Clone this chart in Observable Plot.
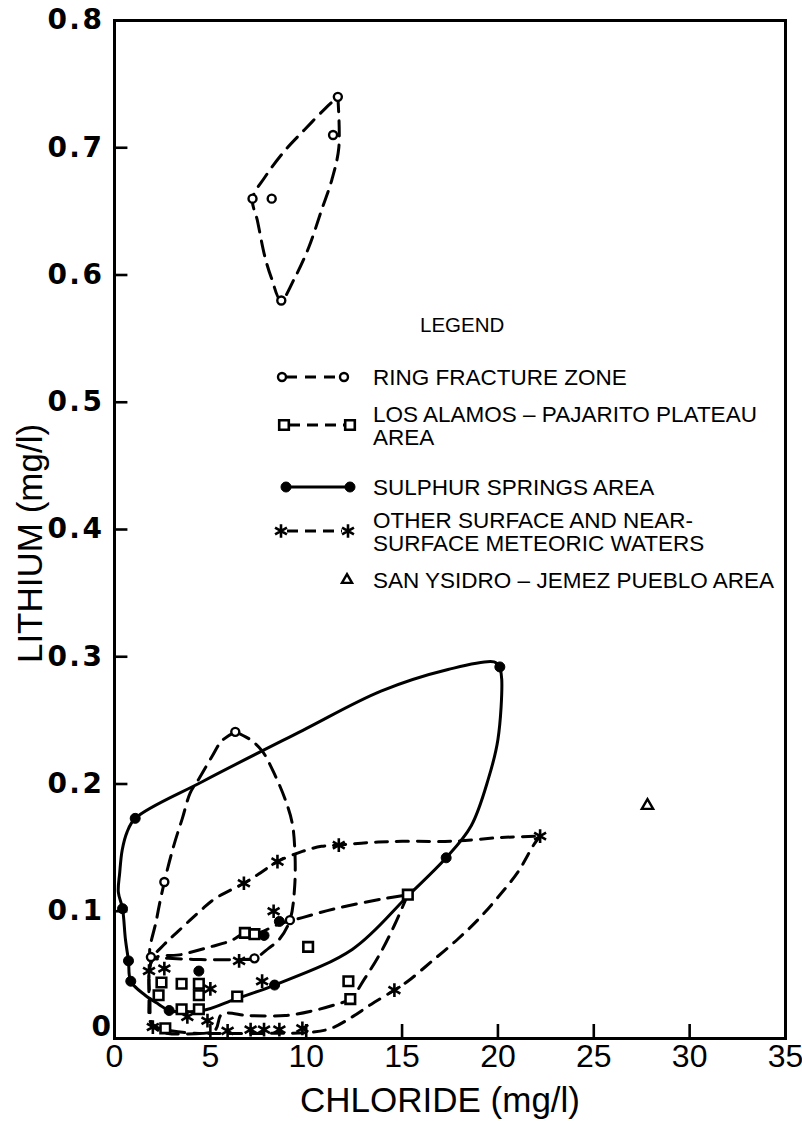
<!DOCTYPE html>
<html><head><meta charset="utf-8">
<script src="https://cdn.jsdelivr.net/npm/d3@7"></script>
<script src="https://cdn.jsdelivr.net/npm/@observablehq/plot@0.6"></script>
<style>
body{margin:0;background:#fff}
#chart{position:relative;width:802px;height:1131px}
</style>
</head><body><div id="chart"></div>
<script>
// ---- tick labels ----
const xTicks = [0, 5, 10, 15, 20, 25, 30, 35];
const yTicks = [0, 0.1, 0.2, 0.3, 0.4, 0.5, 0.6, 0.7, 0.8];

// ---- Ring fracture zone (open circles) ----
const ringX = [7.2, 8.2, 8.7, 11.4, 11.65, 6.3, 2.6, 1.9, 7.3, 9.15];
const ringY = [0.66, 0.66, 0.58, 0.71, 0.74, 0.241, 0.123, 0.064, 0.063, 0.093];

// ---- Los Alamos - Pajarito Plateau area (squares) ----
const laX = [2.45, 2.3, 3.5, 4.4, 4.4, 4.4, 3.5, 2.65, 6.4, 6.8, 7.3, 10.1, 12.2, 12.3, 15.3];
const laY = [0.044, 0.034, 0.043, 0.043, 0.034, 0.023, 0.023, 0.008, 0.033, 0.083, 0.082, 0.072, 0.045, 0.031, 0.113];

// ---- Sulphur Springs area (filled circles) ----
const ssX = [1.08, 0.42, 0.73, 0.85, 2.85, 4.4, 7.8, 8.6, 8.35, 17.3, 20.1];
const ssY = [0.173, 0.102, 0.061, 0.045, 0.022, 0.053, 0.081, 0.092, 0.042, 0.142, 0.292];

// ---- Other surface and near-surface meteoric waters (asterisks) ----
const mwX = [22.2, 14.6, 11.7, 8.5, 6.75, 8.3, 6.5, 7.7, 5.0, 1.8, 2.6, 3.8, 4.85, 2.0, 5.9, 7.1, 7.8, 8.6, 9.8];
const mwY = [0.159, 0.038, 0.152, 0.139, 0.122, 0.1, 0.061, 0.045, 0.039, 0.053, 0.055, 0.017, 0.014, 0.009, 0.006, 0.007, 0.007, 0.007, 0.008];

// ---- San Ysidro - Jemez Pueblo area (triangle) ----
const syX = [27.8];
const syY = [0.183];

// ---- envelope outlines ----
const ringUpperPath = [[11.65,0.74],[11.7,0.70],[11.34,0.675],[10.8,0.651],[10.14,0.622],[9.41,0.598],[8.68,0.58],[8.2,0.597],[7.85,0.614],[7.45,0.643],[7.2,0.66],[7.85,0.677],[8.9,0.698],[9.9,0.714],[11.0,0.731],[11.65,0.74]];
const ringLowerPath = [[6.3,0.241],[7.07,0.235],[7.7,0.226],[8.4,0.206],[8.9,0.188],[9.26,0.17],[9.4,0.15],[9.4,0.12],[9.15,0.093],[8.6,0.078],[8.05,0.071],[7.3,0.063],[6.5,0.062],[4.5,0.062],[2.8,0.063],[1.9,0.064],[2.2,0.094],[2.6,0.123],[3.1,0.152],[3.54,0.173],[3.95,0.193],[4.4,0.204],[5.1,0.222],[5.6,0.234],[6.3,0.241]];
const laPath = [[15.3,0.113],[14.6,0.089],[13.9,0.068],[13.05,0.047],[12.3,0.031],[11.6,0.027],[10.4,0.022],[8.9,0.018],[7.0,0.018],[5.6,0.019],[5.2,0.006],[2.65,0.007],[2.0,0.011],[1.85,0.03],[2.0,0.062],[3.5,0.066],[5.0,0.072],[6.1,0.077],[6.8,0.083],[7.3,0.082],[8.6,0.09],[9.8,0.095],[11.5,0.102],[14.1,0.11],[15.3,0.113]];
const mwPath = [[22.2,0.159],[21.9,0.153],[21.05,0.131],[20.0,0.111],[19.0,0.094],[17.9,0.078],[16.5,0.06],[15.3,0.045],[14.6,0.038],[13.4,0.027],[12.4,0.017],[11.3,0.008],[10.3,0.005],[8.0,0.004],[5.0,0.004],[2.5,0.005],[1.9,0.012],[1.8,0.03],[1.95,0.062],[2.6,0.074],[3.3,0.084],[4.6,0.102],[5.25,0.11],[6.75,0.122],[7.5,0.129],[8.5,0.139],[9.8,0.147],[10.8,0.151],[11.7,0.152],[13.3,0.154],[15.0,0.155],[17.6,0.155],[20.2,0.158],[22.2,0.159]];
const ssPath = [[20.1,0.292],[20.2,0.282],[20.0,0.235],[19.5,0.204],[18.6,0.167],[17.3,0.142],[15.3,0.112],[12.4,0.07],[8.35,0.042],[6.3,0.031],[4.6,0.022],[2.85,0.022],[2.3,0.027],[1.6,0.034],[0.85,0.045],[0.73,0.061],[0.57,0.078],[0.42,0.102],[0.2,0.115],[0.27,0.13],[0.4,0.148],[0.65,0.162],[1.08,0.173],[4.6,0.202],[9.8,0.242],[13.9,0.273],[17.4,0.29],[19.8,0.296],[20.1,0.292]];

// ---- legend ----
const legendTitle = "LEGEND";
const legendItems = [
  {kind: "ring", lines: ["RING FRACTURE ZONE"]},
  {kind: "la", lines: ["LOS ALAMOS \u2013 PAJARITO PLATEAU", "AREA"]},
  {kind: "ss", lines: ["SULPHUR SPRINGS AREA"]},
  {kind: "mw", lines: ["OTHER SURFACE AND NEAR-", "SURFACE METEORIC WATERS"]},
  {kind: "sy", lines: ["SAN YSIDRO \u2013 JEMEZ PUEBLO AREA"]}
];

const pts = (xs, ys) => xs.map((x, i) => ({x, y: ys[i]}));
const px = d => d[0], py = d => d[1];
const SW = 3;

const fmtY = d => d.toFixed(1);
const yTickFont = {textAnchor: "end", fontSize: 28, fontWeight: "bold", fontFamily: "DejaVu Sans, sans-serif", fill: "black"};

const plot = Plot.plot({
  width: 802, height: 1131,
  marginLeft: 114, marginRight: 17, marginTop: 20, marginBottom: 93,
  x: {domain: [0, 35], axis: null},
  y: {domain: [0, 0.8], axis: null},
  style: {background: "white", fontFamily: "Liberation Sans, Arial, sans-serif", color: "black"},
  marks: [
    // envelopes
    Plot.line(ringUpperPath, {x: px, y: py, curve: "catmull-rom", stroke: "black", strokeWidth: SW, strokeDasharray: "15,9"}),
    Plot.line(ringLowerPath, {x: px, y: py, curve: "catmull-rom", stroke: "black", strokeWidth: SW, strokeDasharray: "15,9"}),
    Plot.line(laPath, {x: px, y: py, curve: "catmull-rom", stroke: "black", strokeWidth: SW, strokeDasharray: "14,9"}),
    Plot.line(mwPath, {x: px, y: py, curve: "catmull-rom", stroke: "black", strokeWidth: SW, strokeDasharray: "12,9"}),
    Plot.line(ssPath, {x: px, y: py, curve: "catmull-rom", stroke: "black", strokeWidth: SW}),
    // points
    Plot.dot(pts(mwX, mwY), {x: "x", y: "y", symbol: "asterisk", r: 6.5, stroke: "black", strokeWidth: 2.6}),
    Plot.dot(pts(laX, laY), {x: "x", y: "y", symbol: "square", r: 5.4, fill: "white", stroke: "black", strokeWidth: 2.6}),
    Plot.dot(pts(ringX, ringY), {x: "x", y: "y", symbol: "circle", r: 4, fill: "white", stroke: "black", strokeWidth: 2.4}),
    Plot.dot(pts(ssX, ssY), {x: "x", y: "y", symbol: "circle", r: 5, fill: "black", stroke: "black", strokeWidth: 1}),
    Plot.dot(pts(syX, syY), {x: "x", y: "y", symbol: "triangle", r: 4.2, fill: "white", stroke: "black", strokeWidth: 2.4}),
    // frame and inward ticks
    Plot.frame({stroke: "black", strokeWidth: 3}),
    Plot.ruleX(xTicks.filter(d => d > 0 && d < 35), {x: d => d, y1: 0, y2: 0.011, stroke: "black", strokeWidth: 2.6}),
    Plot.ruleY(yTicks.filter(d => d > 0 && d < 0.8), {y: d => d, x1: 0, x2: 0.7, stroke: "black", strokeWidth: 2.6}),
    // tick labels
    Plot.text(xTicks, {x: d => d, y: 0, text: d => String(d), dy: 18, lineAnchor: "middle", fontSize: 32, fontFamily: "Liberation Sans, Arial, sans-serif", fill: "black"}),
    Plot.text(yTicks.filter(d => d > 0), {x: 0, y: d => d, text: fmtY, dx: -10, ...yTickFont}),
    Plot.text(yTicks.filter(d => d === 0), {x: 0, y: d => d, text: d => String(d), dx: -1, dy: -11, ...yTickFont}),
    // axis titles
    Plot.text(["LITHIUM (mg/l)"], {frameAnchor: "left", text: d => d, rotate: -90, textAnchor: "middle", lineAnchor: "middle", dx: -84, dy: 14, fontSize: 35, fill: "black"}),
    Plot.text(["CHLORIDE (mg/l)"], {frameAnchor: "bottom", text: d => d, textAnchor: "middle", lineAnchor: "middle", dy: 62, dx: -10, fontSize: 35, fill: "black"})
  ]
});
document.getElementById("chart").appendChild(plot);

// wider spacing for the bold y tick labels
d3.select(plot).selectAll("g[font-weight='bold'] text").attr("letter-spacing", 2.5);

// ---- legend drawn into the same SVG ----
const svg = d3.select(plot);
const lg = svg.append("g").attr("font-family", "Liberation Sans, Arial, sans-serif").attr("fill", "black").attr("text-anchor", "start");
lg.append("text").attr("x", 420).attr("y", 332).attr("font-size", 20.5).text(legendTitle);
const rowY = [377, 425, 487, 531, 580];
const textX = 373;
legendItems.forEach((it, i) => {
  const y = rowY[i];
  const g = lg.append("g");
  const sym = (type, cx, size, fill, sw) => g.append("path")
      .attr("d", d3.symbol().type(type).size(size)())
      .attr("transform", `translate(${cx},${y})`)
      .attr("fill", fill).attr("stroke", "black").attr("stroke-width", sw);
  const ln = (x1, x2, dash) => g.append("line").attr("x1", x1).attr("x2", x2).attr("y1", y).attr("y2", y)
      .attr("stroke", "black").attr("stroke-width", SW).attr("stroke-dasharray", dash);
  if (it.kind === "ring") { ln(286, 340, "11,8"); sym(d3.symbolCircle, 282, Math.PI*16, "white", 2.4); sym(d3.symbolCircle, 344, Math.PI*16, "white", 2.4); }
  if (it.kind === "la") { ln(289, 344, "11,7"); sym(d3.symbolSquare, 284, 92, "white", 2.6); sym(d3.symbolSquare, 350, 92, "white", 2.6); }
  if (it.kind === "ss") { ln(286, 350, null); sym(d3.symbolCircle, 286, Math.PI*25, "black", 1); sym(d3.symbolCircle, 350, Math.PI*25, "black", 1); }
  if (it.kind === "mw") { ln(287, 342, "11,7"); sym(d3.symbolAsterisk, 281, Math.PI*42, "none", 2.6); sym(d3.symbolAsterisk, 348, Math.PI*42, "none", 2.6); }
  if (it.kind === "sy") { sym(d3.symbolTriangle, 347, Math.PI*14, "white", 2.4); }
  const t = g.append("text").attr("font-size", 22.5)
      .attr("y", it.lines.length === 1 ? y : y - 11);
  it.lines.forEach((s, j) => t.append("tspan").attr("x", textX).attr("dy", j === 0 ? "0.36em" : "1.02em").text(s));
});
</script>
</body></html>
